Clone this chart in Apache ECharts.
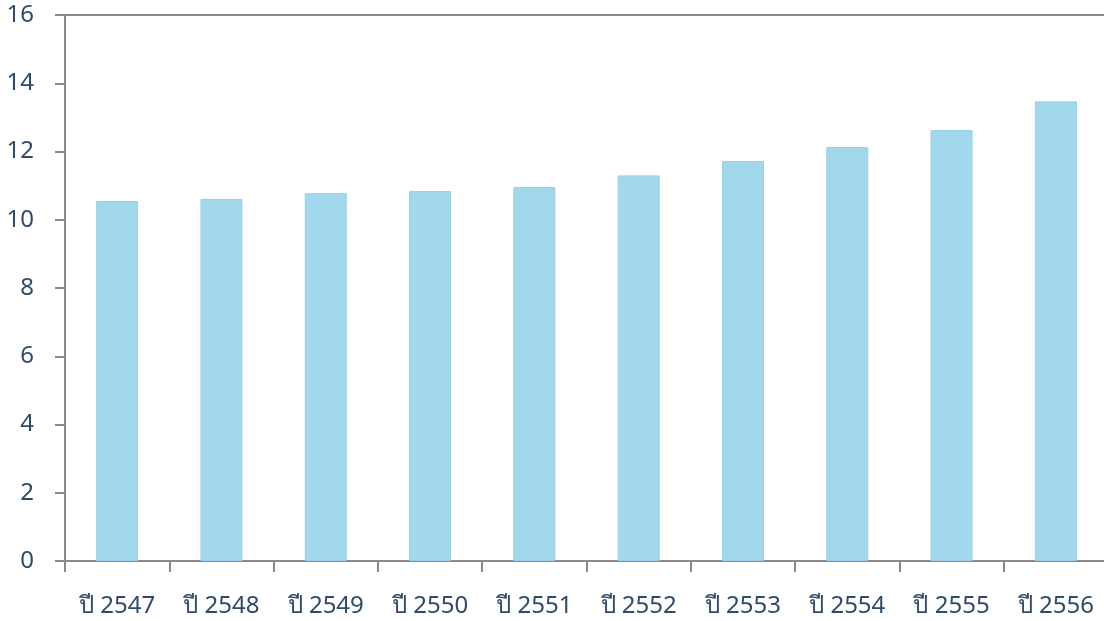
<!DOCTYPE html>
<html>
<head>
<meta charset="utf-8">
<script src="https://cdn.jsdelivr.net/npm/echarts@6/dist/echarts.min.js"></script>
<style>
  html, body { margin: 0; padding: 0; background: #fff; overflow: hidden; }
  #chart { width: 1104px; height: 621px; }
</style>
</head>
<body>
<div id="chart"></div>
<script>
// ข้อมูล
var years = ['ปี 2547', 'ปี 2548', 'ปี 2549', 'ปี 2550', 'ปี 2551',
             'ปี 2552', 'ปี 2553', 'ปี 2554', 'ปี 2555', 'ปี 2556'];
var values = [10.55, 10.61, 10.78, 10.84, 10.96, 11.30, 11.72, 12.13, 12.63, 13.47];
var y_min = 0;
var y_max = 16;
var y_step = 2;

var axis_color = '#8a8a8a';
var text_color = '#2f4a6d';
var font_name = "'Noto Sans', 'DejaVu Sans', sans-serif";

var myChart = echarts.init(document.getElementById('chart'));
var option = {
    animation: false,
    grid: {
        left: 65,
        width: 1043,
        top: 15,
        bottom: 60,
        containLabel: false,
        outerBoundsMode: 'none'
    },
    xAxis: [{
        type: 'category',
        data: years,
        boundaryGap: true,
        axisLine: { lineStyle: { color: axis_color, width: 2 } },
        axisTick: { show: true, length: 11, lineStyle: { color: axis_color, width: 2 } },
        axisLabel: {
            color: text_color,
            fontSize: 24,
            fontFamily: font_name,
            margin: 33,
            interval: 0
        }
    }, {
        // เส้นขอบด้านบน (ที่ 16)
        type: 'category',
        data: years,
        position: 'top',
        axisLine: { lineStyle: { color: axis_color, width: 2 } },
        axisTick: { show: false },
        axisLabel: { show: false }
    }],
    yAxis: {
        type: 'value',
        min: y_min,
        max: y_max,
        interval: y_step,
        splitLine: { show: false },
        axisLine: { show: true, lineStyle: { color: axis_color, width: 2 } },
        axisTick: { show: true, length: 10, lineStyle: { color: axis_color, width: 2 } },
        axisLabel: {
            color: text_color,
            fontSize: 24,
            fontFamily: font_name,
            margin: 31
        }
    },
    series: [{
        type: 'bar',
        data: values,
        barWidth: 42,
        itemStyle: {
            color: '#a2d8ec',
            borderColor: '#9ccdf0',
            borderWidth: 1
        }
    }]
};
myChart.setOption(option);
</script>
</body>
</html>
